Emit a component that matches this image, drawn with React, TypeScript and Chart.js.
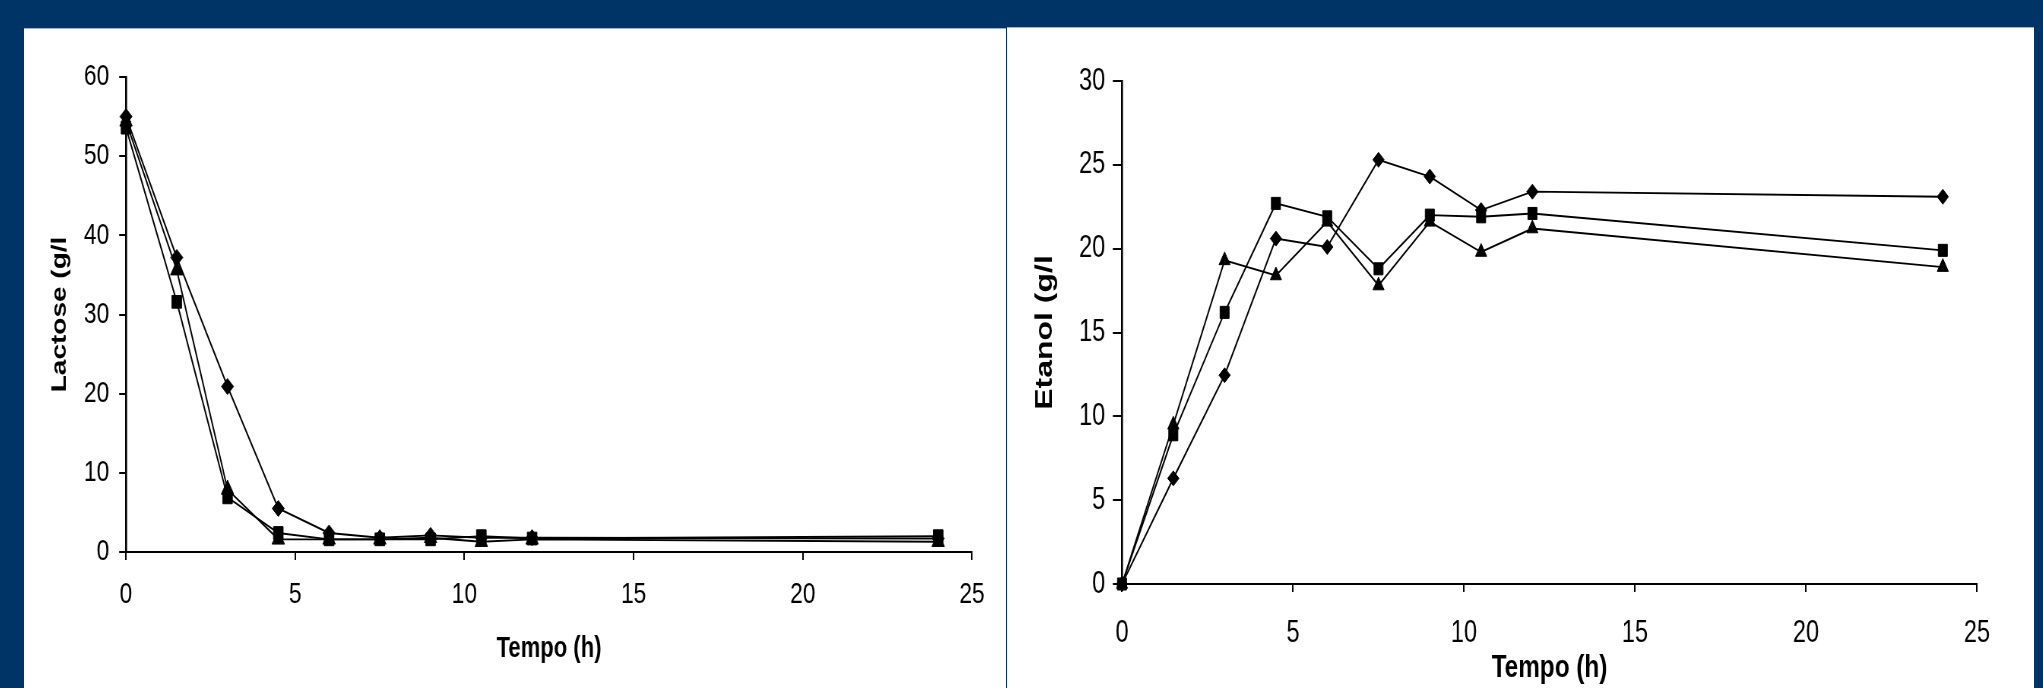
import React, { useEffect, useRef } from "react";
import { Chart, registerables } from "chart.js";

Chart.register(...registerables);

// ---------- data ----------
const TIME_H = [0, 1.5, 3, 4.5, 6, 7.5, 9, 10.5, 12, 24];

const LACTOSE_DIAMOND = [55.0, 37.2, 20.9, 5.5, 2.4, 1.8, 2.1, 1.8, 1.8, 1.7];
const LACTOSE_SQUARE = [53.6, 31.6, 6.9, 2.4, 1.6, 1.6, 1.6, 2.0, 1.7, 2.0];
const LACTOSE_TRIANGLE = [54.4, 35.6, 7.9, 1.6, 1.6, 1.6, 1.8, 1.3, 1.6, 1.3];

const ETANOL_DIAMOND = [0, 6.3, 12.45, 20.6, 20.1, 25.3, 24.3, 22.3, 23.4, 23.1];
const ETANOL_SQUARE = [0, 8.9, 16.2, 22.7, 21.9, 18.8, 22.0, 21.9, 22.1, 19.9];
const ETANOL_TRIANGLE = [0, 9.5, 19.3, 18.4, 21.6, 17.8, 21.6, 19.8, 21.2, 18.9];

const X_TICK_STEP = 5;
const X_MAX = 25;
const LACTOSE_Y_MAX = 60;
const LACTOSE_Y_STEP = 10;
const ETANOL_Y_MAX = 30;
const ETANOL_Y_STEP = 5;

const X_TITLE = "Tempo (h)";
const LACTOSE_TITLE = "Lactose (g/l";
const ETANOL_TITLE = "Etanol (g/l";

const BG = "#003366";
const FONT = "'Liberation Sans', Arial, Helvetica, sans-serif";

type Series = { values: number[]; style: string; r: number };

type PanelSpec = {
  w: number;
  h: number;
  squeeze: number;
  chartLeft: number;
  chartRight: number;
  chartTop: number;
  chartBottom: number;
  yMax: number;
  yStep: number;
  yTitle: string;
  tickSize: number;
  yTitleSize: number;
  yTitlePad: number;
  xTitleSize: number;
  xTitlePad: number;
  xTickPad: number;
  yTickPad: number;
  yTickLen: number;
  series: Series[];
};

function buildConfig(p: PanelSpec): any {
  return {
    type: "line",
    data: {
      datasets: p.series.map((s) => ({
        data: TIME_H.map((t, i) => ({ x: t, y: s.values[i] })),
        borderColor: "#000",
        backgroundColor: "#000",
        borderWidth: 1.9,
        pointStyle: s.style,
        pointRadius: s.r,
        pointHoverRadius: s.r,
        pointBorderWidth: 1,
        pointBorderColor: "#000",
        pointBackgroundColor: "#000",
        tension: 0,
        fill: false,
        clip: false,
      })),
    },
    options: {
      responsive: false,
      animation: false,
      devicePixelRatio: 1,
      events: [],
      layout: {
        padding: {
          left: 0,
          top: p.chartTop,
          right: p.w - p.chartRight,
          bottom: 0,
        },
      },
      plugins: {
        legend: { display: false },
        tooltip: { enabled: false },
        title: { display: false },
      },
      scales: {
        x: {
          type: "linear",
          min: 0,
          max: X_MAX,
          ticks: {
            stepSize: X_TICK_STEP,
            color: "#000",
            padding: p.xTickPad,
            font: { family: FONT, size: p.tickSize },
          },
          grid: {
            drawOnChartArea: false,
            drawTicks: true,
            tickLength: 8,
            color: "#000",
            lineWidth: 2,
          },
          border: { display: true, color: "#000", width: 2 },
          title: {
            display: true,
            text: X_TITLE,
            color: "#000",
            font: { family: FONT, size: p.xTitleSize, weight: "bold" },
            padding: { top: 0, bottom: p.xTitlePad },
          },
          afterFit: (s: any) => {
            s.height = p.h - p.chartBottom;
          },
        },
        y: {
          type: "linear",
          min: 0,
          max: p.yMax,
          ticks: {
            stepSize: p.yStep,
            color: "#000",
            padding: p.yTickPad,
            font: { family: FONT, size: p.tickSize },
          },
          grid: {
            drawOnChartArea: false,
            drawTicks: true,
            tickLength: p.yTickLen,
            color: "#000",
            lineWidth: 2,
          },
          border: { display: true, color: "#000", width: 2.6 },
          title: {
            display: true,
            text: p.yTitle,
            color: "#000",
            font: { family: FONT, size: p.yTitleSize, weight: "bold" },
            padding: { top: p.yTitlePad, bottom: 0 },
          },
          afterFit: (s: any) => {
            s.width = p.chartLeft;
          },
        },
      },
    },
  };
}

function ChartPanel({ spec }: { spec: PanelSpec }) {
  const ref = useRef<HTMLCanvasElement | null>(null);
  useEffect(() => {
    if (!ref.current) return;
    const chart = new Chart(ref.current, buildConfig(spec));
    return () => chart.destroy();
  }, []);
  return (
    <canvas
      ref={ref}
      width={spec.w}
      height={spec.h}
      style={{
        display: "block",
        width: spec.w + "px",
        height: spec.h + "px",
        transform: `scaleX(${spec.squeeze})`,
        transformOrigin: "0 0",
      }}
    />
  );
}

const SQ = 0.76;

const LEFT_SPEC: PanelSpec = {
  w: Math.round(982 / SQ),
  h: 660,
  squeeze: SQ,
  chartLeft: (126 - 24) / SQ,
  chartRight: (972 - 24) / SQ,
  chartTop: 49,
  chartBottom: 524,
  yMax: LACTOSE_Y_MAX,
  yStep: LACTOSE_Y_STEP,
  yTitle: LACTOSE_TITLE,
  tickSize: 30,
  yTitleSize: 28,
  yTitlePad: 30,
  xTitleSize: 29,
  xTitlePad: 22,
  xTickPad: 17,
  yTickPad: 13,
  yTickLen: 9,
  series: [
    { values: LACTOSE_DIAMOND, style: "rectRot", r: 8 },
    { values: LACTOSE_SQUARE, style: "rect", r: 9 },
    { values: LACTOSE_TRIANGLE, style: "triangle", r: 9.5 },
  ],
};

const RIGHT_SPEC: PanelSpec = {
  w: Math.round(1027 / SQ),
  h: 661,
  squeeze: SQ,
  chartLeft: (1122 - 1007) / SQ,
  chartRight: (1977 - 1007) / SQ,
  chartTop: 54,
  chartBottom: 557,
  yMax: ETANOL_Y_MAX,
  yStep: ETANOL_Y_STEP,
  yTitle: ETANOL_TITLE,
  tickSize: 31,
  yTitleSize: 32,
  yTitlePad: 31,
  xTitleSize: 32,
  xTitlePad: 1,
  xTickPad: 23,
  yTickPad: 10,
  yTickLen: 12,
  series: [
    { values: ETANOL_DIAMOND, style: "rectRot", r: 7.5 },
    { values: ETANOL_SQUARE, style: "rect", r: 8.5 },
    { values: ETANOL_TRIANGLE, style: "triangle", r: 8.5 },
  ],
};

export default function App() {
  return (
    <div
      style={{
        position: "fixed",
        left: 0,
        top: 0,
        width: 2043,
        height: 688,
        background: BG,
        overflow: "hidden",
      }}
    >
      <div
        style={{
          position: "absolute",
          left: 24,
          top: 28,
          width: 982,
          height: 660,
          background: "#fff",
          overflow: "hidden",
        }}
      >
        <ChartPanel spec={LEFT_SPEC} />
        <div style={{ position: "absolute", left: 0, top: 0, width: 982, height: 1, background: "#9fb3cd" }} />
      </div>
      <div
        style={{
          position: "absolute",
          left: 1007,
          top: 27,
          width: 1027,
          height: 661,
          background: "#fff",
          overflow: "hidden",
        }}
      >
        <ChartPanel spec={RIGHT_SPEC} />
        <div style={{ position: "absolute", left: 0, top: 0, width: 1027, height: 1, background: "#9fb3cd" }} />
      </div>
    </div>
  );
}
